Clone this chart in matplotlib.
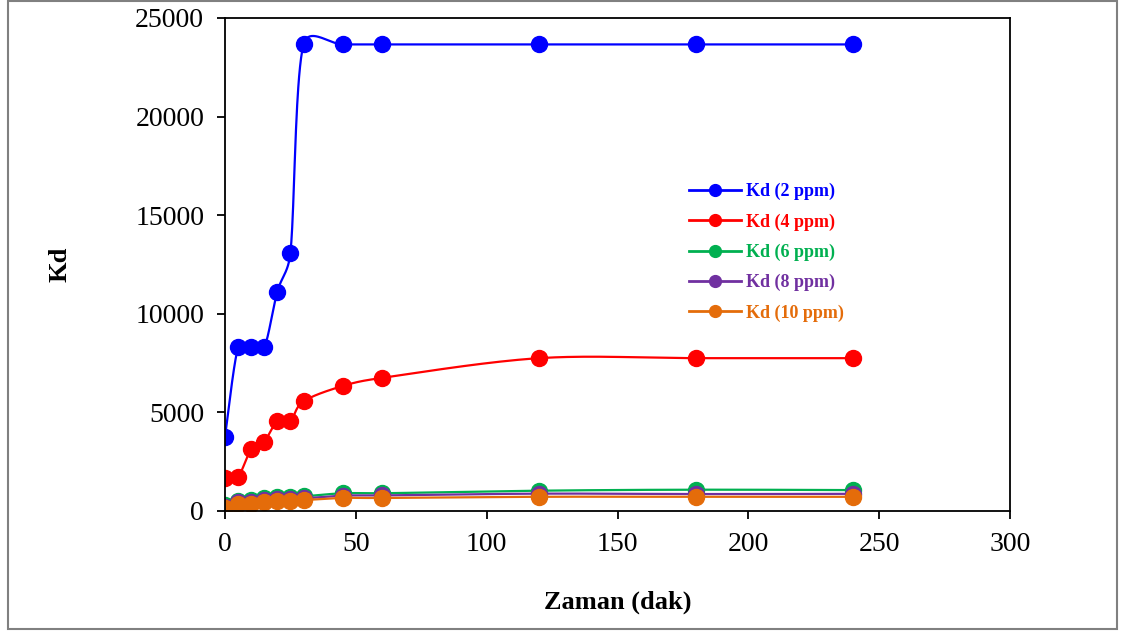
import numpy as np
import matplotlib
matplotlib.use('Agg')
from matplotlib import pyplot as plt
from matplotlib.patches import Rectangle

# veriler
zaman = [0, 5, 10, 15, 20, 25, 30, 45, 60, 120, 180, 240]
kd_2 = [3770, 8300, 8300, 8300, 11120, 13100, 23660, 23660, 23660, 23660, 23660, 23660]
kd_4 = [1660, 1740, 3130, 3520, 4580, 4580, 5560, 6340, 6750, 7750, 7750, 7750]
kd_6 = [280, 520, 560, 640, 720, 720, 740, 900, 900, 1030, 1080, 1060]
kd_8 = [200, 450, 480, 560, 620, 620, 640, 780, 790, 880, 860, 870]
kd_10 = [150, 340, 380, 480, 510, 510, 550, 660, 660, 720, 720, 720]

seriler = ['Kd (2 ppm)', 'Kd (4 ppm)', 'Kd (6 ppm)', 'Kd (8 ppm)', 'Kd (10 ppm)']
renkler = ['#0000FF', '#FF0000', '#00B050', '#7030A0', '#E46C0A']

# piksel olcegi (yumusatma icin)
SX = 785 / 300
SY = 493 / 25000


def smooth(x, y, n=40):
    # Excel benzeri yumusatma (Bezier), kol uzunlugu segmentin yarisiyla sinirli
    p = np.column_stack([np.array(x) * SX, np.array(y) * SY]).astype(float)
    p = np.vstack([p[0], p, p[-1]])
    out = []
    for i in range(1, len(p) - 2):
        p0, p1, p2, p3 = p[i - 1], p[i], p[i + 1], p[i + 2]
        seg_len = np.hypot(*(p2 - p1))
        h1 = (p2 - p0) / 6
        h2 = (p3 - p1) / 6
        for h in (h1, h2):
            L = np.hypot(*h)
            if L > 0.5 * seg_len and L > 0:
                h *= 0.5 * seg_len / L
        b1 = p1 + h1
        b2 = p2 - h2
        t = np.linspace(0, 1, n)[:, None]
        seg = ((1 - t) ** 3) * p1 + 3 * ((1 - t) ** 2) * t * b1 \
            + 3 * (1 - t) * t ** 2 * b2 + t ** 3 * p2
        out.append(seg)
    out = np.vstack(out)
    return out[:, 0] / SX, out[:, 1] / SY


plt.rcParams['font.family'] = 'Liberation Serif'
plt.rcParams['font.size'] = 20

fig = plt.figure(figsize=(11.23, 6.32), dpi=100)
ax = fig.add_axes([225 / 1123, 1 - 511 / 632, 785 / 1123, 493 / 632])

# dis cerceve
fig.patches.append(Rectangle((8 / 1123, 3 / 632), 1109 / 1123, 628 / 632,
                             transform=fig.transFigure, fill=False,
                             edgecolor='#808080', linewidth=1.5))

for veri, ad, renk in zip([kd_2, kd_4, kd_6, kd_8, kd_10], seriler, renkler):
    sx, sy = smooth(zaman, veri)
    ax.plot(sx, sy, color=renk, linewidth=1.6)
    ax.plot(zaman, veri, 'o', color=renk, markersize=11.5)
    ax.plot([], [], '-o', color=renk, linewidth=2.0, markersize=8.5, label=ad)

ax.set_xlim(0, 300)
ax.set_ylim(0, 25000)
ax.set_xticks(range(0, 301, 50))
ax.set_yticks(range(0, 25001, 5000))
ax.tick_params(direction='out', length=6, width=1.3)
ax.tick_params(axis='y', pad=9)
ax.tick_params(axis='x', pad=9)
for s in ax.spines.values():
    s.set_linewidth(1.3)

ax.set_xlabel('Zaman (dak)', fontweight='bold', fontsize=19, labelpad=24)
ax.set_ylabel('Kd', fontweight='bold', fontsize=19, labelpad=46)

leg = ax.legend(loc='upper left', bbox_to_anchor=(0.57, 0.698), frameon=False,
                prop={'weight': 'bold', 'size': 13}, handlelength=2.9,
                handletextpad=0.3, labelspacing=0.72)
for txt, renk in zip(leg.get_texts(), renkler):
    txt.set_color(renk)

fig.savefig('out.png', dpi=100)
